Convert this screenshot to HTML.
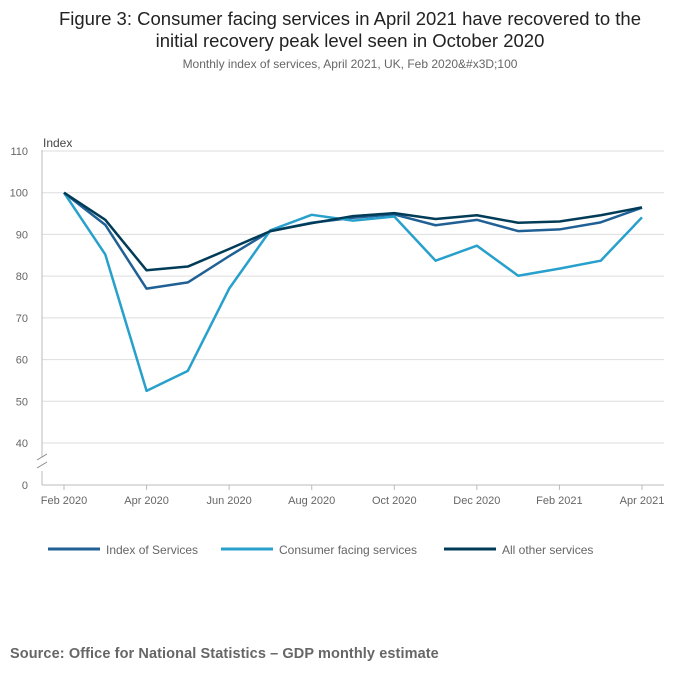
<!DOCTYPE html>
<html><head><meta charset="utf-8"><style>
body{margin:0;background:#fff;font-family:"Liberation Sans",sans-serif;}
#wrap{position:relative;width:700px;height:682px;overflow:hidden}
.t{position:absolute;left:0;width:700px;text-align:center;color:#222}
</style></head><body>
<div id="wrap">
<div class="t" style="top:8px;font-size:18.5px;line-height:22px">Figure 3: Consumer facing services in April 2021 have recovered to the<br>initial recovery peak level seen in October 2020</div>
<div class="t" style="top:57px;font-size:12px;color:#666">Monthly index of services, April 2021, UK, Feb 2020&amp;#x3D;100</div>
<svg id="c" width="700" height="682" style="position:absolute;left:0;top:0"></svg>
<div style="position:absolute;left:10px;top:646px;font-size:14.5px;letter-spacing:0.1px;font-weight:bold;color:#666">Source: Office for National Statistics – GDP monthly estimate</div>
</div>
<script>
const months=["Feb 2020","Mar 2020","Apr 2020","May 2020","Jun 2020","Jul 2020","Aug 2020","Sep 2020","Oct 2020","Nov 2020","Dec 2020","Jan 2021","Feb 2021","Mar 2021","Apr 2021"];
const indexServices=[100,92.3,77,78.5,84.8,90.8,92.8,94,94.8,92.2,93.5,90.8,91.2,92.9,96.4];
const consumerFacing=[100,85.2,52.5,57.3,77,91,94.7,93.3,94.3,83.7,87.3,80.1,81.8,83.7,94.1];
const allOther=[100,93.5,81.4,82.3,86.5,90.8,92.7,94.4,95.1,93.7,94.6,92.8,93.1,94.6,96.5];
const yTicks=[110,100,90,80,70,60,50,40];
const seriesNames=["Index of Services","Consumer facing services","All other services"];
const colors=["#206095","#27a0cc","#003c57"];
const svg=document.getElementById('c');const NS="http://www.w3.org/2000/svg";
function mk(t,a,p){const e=document.createElementNS(NS,t);for(const k in a)e.setAttribute(k,a[k]);(p||svg).appendChild(e);return e;}
const x=i=>64+i*(642-64)/(months.length-1);
const y=v=>443-(v-40)*(443-151)/70;
yTicks.forEach(v=>{const l=mk('line',{x1:42,x2:664,y1:y(v),y2:y(v),stroke:'#ddd'});

const t=mk('text',{x:28,y:y(v)+4,'font-size':11,fill:'#666','text-anchor':'end'});t.textContent=v;
});
let z=mk('text',{x:28,y:489,'font-size':11,fill:'#666','text-anchor':'end'});z.textContent='0';

let ax=mk('line',{x1:42,x2:664,y1:485,y2:485,stroke:'#bbb'});
let ya=mk('path',{d:'M42 150V457M42 471V485',stroke:'#bbb',fill:'none'});
let br=mk('path',{d:'M37 460L47 454M37 468L47 462',stroke:'#888',fill:'none'});
let yt=mk('text',{x:43,y:147,'font-size':12,fill:'#444'});yt.textContent='Index';
months.forEach((m,i)=>{if(i%2)return;const tk=mk('line',{x1:x(i),x2:x(i),y1:485,y2:490,stroke:'#bbb'});

const t=mk('text',{x:x(i),y:504,'font-size':11,fill:'#666','text-anchor':'middle'});t.textContent=m;
});
[indexServices,consumerFacing,allOther].forEach((s,k)=>{const p=mk('path',{d:s.map((v,i)=>(i?'L':'M')+x(i)+' '+y(v)).join(''),stroke:colors[k],'stroke-width':2.5,fill:'none','stroke-linejoin':'round'});
});
const lx=[48,221,444];
seriesNames.forEach((n,k)=>{const g=mk('g',{});
mk('line',{x1:lx[k],x2:lx[k]+52,y1:549,y2:549,stroke:colors[k],'stroke-width':3},g);
const t=mk('text',{x:lx[k]+58,y:554,'font-size':12,fill:'#666'},g);t.textContent=n;});
</script>
</body></html>
